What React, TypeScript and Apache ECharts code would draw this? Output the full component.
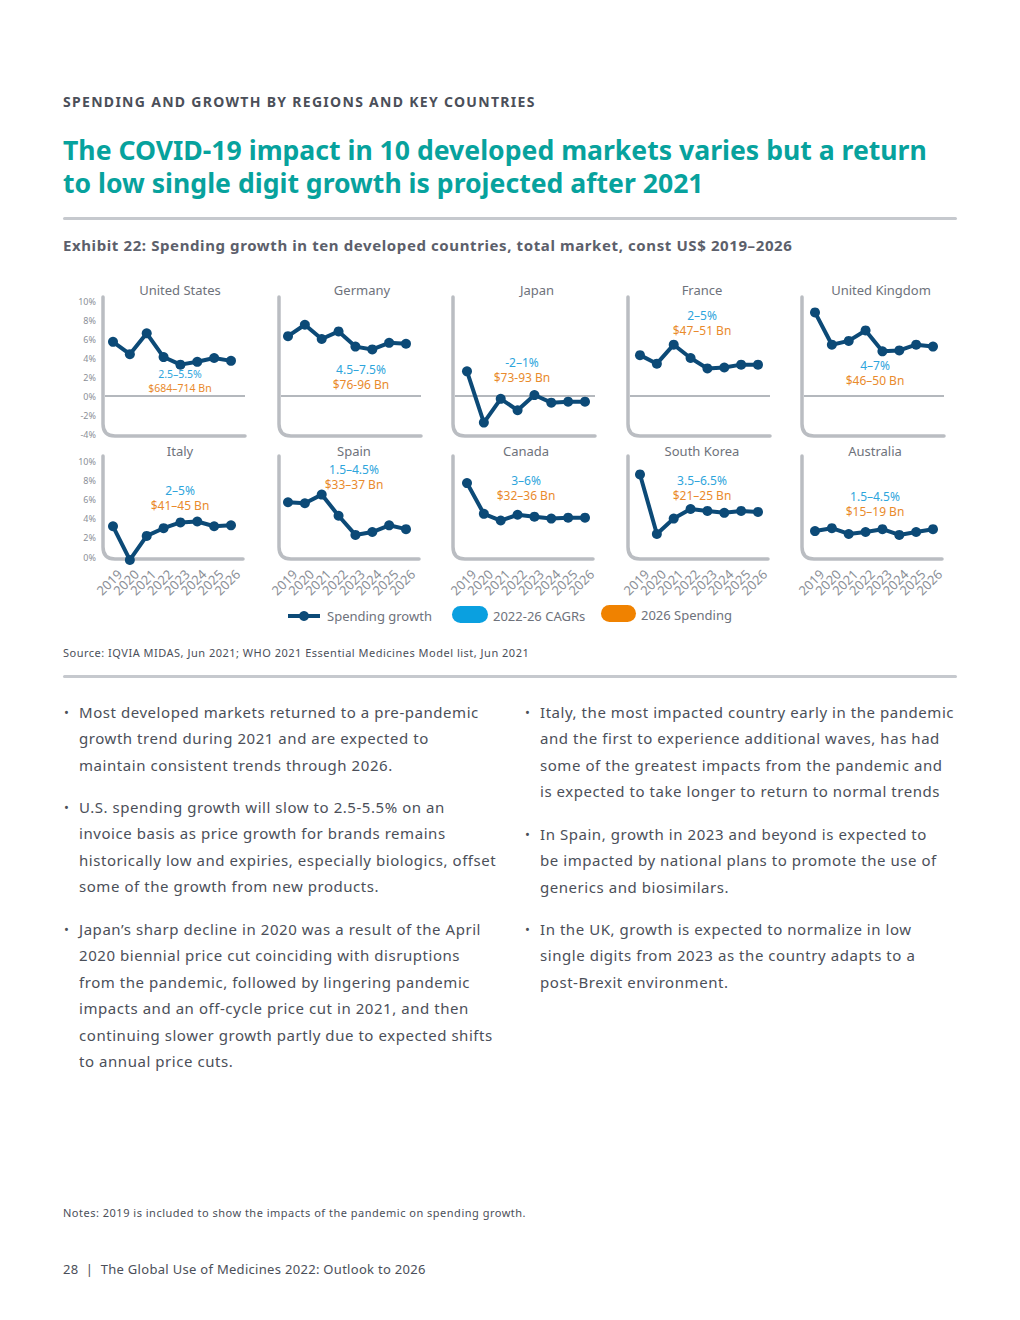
import React, { useEffect, useRef } from "react";
import * as echarts from "echarts";

// ---------- DATA ----------
const years = ["2019", "2020", "2021", "2022", "2023", "2024", "2025", "2026"];
const countries = [
  "United States", "Germany", "Japan", "France", "United Kingdom",
  "Italy", "Spain", "Canada", "South Korea", "Australia",
];
const usGrowth = [5.7, 4.4, 6.6, 4.1, 3.3, 3.6, 4.0, 3.7];
const germanyGrowth = [6.3, 7.5, 6.0, 6.8, 5.2, 4.9, 5.6, 5.5];
const japanGrowth = [2.6, -2.8, -0.3, -1.5, 0.1, -0.7, -0.6, -0.6];
const franceGrowth = [4.3, 3.4, 5.4, 4.0, 2.9, 3.0, 3.3, 3.3];
const ukGrowth = [8.8, 5.4, 5.8, 6.9, 4.7, 4.8, 5.4, 5.2];
const italyGrowth = [3.2, -0.3, 2.2, 3.0, 3.6, 3.7, 3.2, 3.3];
const spainGrowth = [5.7, 5.6, 6.5, 4.3, 2.3, 2.6, 3.3, 2.9];
const canadaGrowth = [7.7, 4.5, 3.8, 4.4, 4.2, 4.0, 4.1, 4.1];
const koreaGrowth = [8.6, 2.4, 4.0, 5.0, 4.8, 4.6, 4.8, 4.7];
const australiaGrowth = [2.7, 3.0, 2.4, 2.6, 2.9, 2.3, 2.6, 2.9];
const growthSeries = [
  usGrowth, germanyGrowth, japanGrowth, franceGrowth, ukGrowth,
  italyGrowth, spainGrowth, canadaGrowth, koreaGrowth, australiaGrowth,
];
const cagrLabels = [
  "2.5–5.5%", "4.5–7.5%", "-2–1%", "2–5%", "4–7%",
  "2–5%", "1.5–4.5%", "3–6%", "3.5–6.5%", "1.5–4.5%",
];
const spendLabels = [
  "$684–714 Bn", "$76-96 Bn", "$73-93 Bn", "$47–51 Bn", "$46–50 Bn",
  "$41–45 Bn", "$33–37 Bn", "$32–36 Bn", "$21–25 Bn", "$15–19 Bn",
];
const topRowRange = [-4, 10];
const bottomRowRange = [0, 10];
const tickStep = 2;
const legendLabels = ["Spending growth", "2022-26 CAGRs", "2026 Spending"];

const leftBullets = [
  ["Most developed markets returned to a pre-pandemic", "growth trend during 2021 and are expected to", "maintain consistent trends through 2026."],
  ["U.S. spending growth will slow to 2.5-5.5% on an", "invoice basis as price growth for brands remains", "historically low and expiries, especially biologics, offset", "some of the growth from new products."],
  ["Japan’s sharp decline in 2020 was a result of the April", "2020 biennial price cut coinciding with disruptions", "from the pandemic, followed by lingering pandemic", "impacts and an off-cycle price cut in 2021, and then", "continuing slower growth partly due to expected shifts", "to annual price cuts."],
];
const rightBullets = [
  ["Italy, the most impacted country early in the pandemic", "and the first to experience additional waves, has had", "some of the greatest impacts from the pandemic and", "is expected to take longer to return to normal trends"],
  ["In Spain, growth in 2023 and beyond is expected to", "be impacted by national plans to promote the use of", "generics and biosimilars."],
  ["In the UK, growth is expected to normalize in low", "single digits from 2023 as the country adapts to a", "post-Brexit environment."],
];

// ---------- STYLE / LAYOUT ----------
const FONT = '"Noto Sans", "Open Sans", sans-serif';
const NAVY = "#0c4a77";
const CAGR_BLUE = "#2ea5dc";
const ORANGE = "#e98a2c";
const FRAME = "#babdc2";
const GRAY_TXT = "#6e727b";
const TICK_TXT = "#8b8f97";
const BODY = "#4b4f59";
const TEAL = "#07a29d";

const frameX = [103, 279, 453, 628, 802];
const gridLeft = [113, 288, 467, 640, 815];
const gridWidth = 118;
const rowGrid = [
  { top: 301, height: 133, frameTop: 297, frameBottom: 436, frameW: 142 },
  { top: 461, height: 96, frameTop: 456, frameBottom: 559, frameW: 140 },
];
const titlePos = [
  [180, 290], [362, 290], [537, 290], [702, 290], [881, 290],
  [180, 451], [354, 451], [526, 451], [702, 451], [875, 451],
];
// centre between the two annotation lines
const notePos = [
  [180, 381], [361, 377], [522, 370], [702, 323], [875, 373],
  [180, 498], [354, 477], [526, 488], [702, 488], [875, 504],
];

function framePath(h: number, w: number) {
  const r = 12;
  return `M0,0 L0,${h - r} Q0,${h} ${r},${h} L${w},${h}`;
}
echarts.graphic.registerShape("frameTop", echarts.graphic.extendPath(framePath(rowGrid[0].frameBottom - rowGrid[0].frameTop, rowGrid[0].frameW), {}));
echarts.graphic.registerShape("frameBot", echarts.graphic.extendPath(framePath(rowGrid[1].frameBottom - rowGrid[1].frameTop, rowGrid[1].frameW), {}));

function buildOption() {
  const grid: any[] = [];
  const xAxis: any[] = [];
  const yAxis: any[] = [];
  const series: any[] = [];
  const graphic: any[] = [];

  countries.forEach((name, i) => {
    const row = i < 5 ? 0 : 1;
    const col = i % 5;
    const rg = rowGrid[row];
    const range = row === 0 ? topRowRange : bottomRowRange;
    grid.push({ left: gridLeft[col], width: gridWidth, top: rg.top, height: rg.height });
    xAxis.push({
      type: "category",
      gridIndex: i,
      data: years,
      boundaryGap: false,
      axisLine: { show: false },
      axisTick: { show: false },
      axisLabel:
        row === 1
          ? {
              show: true, interval: 0, rotate: 45, fontSize: 13, color: TICK_TXT, fontFamily: FONT,
              margin: 8, verticalAlign: "top", padding: [3, 0, 0, 0],
            }
          : { show: false, interval: 0 },
    });
    yAxis.push({
      type: "value",
      gridIndex: i,
      min: range[0],
      max: range[1],
      interval: tickStep,
      splitLine: { show: false },
      axisLine: { show: false },
      axisTick: { show: false },
      axisLabel:
        col === 0
          ? { show: true, formatter: "{value}%", fontSize: 9, color: TICK_TXT, fontFamily: FONT, margin: 17 }
          : { show: false },
    });
    series.push({
      type: "line",
      name: "Spending growth",
      xAxisIndex: i,
      yAxisIndex: i,
      data: growthSeries[i],
      symbol: "circle",
      symbolSize: 10,
      showSymbol: true,
      showAllSymbol: true,
      clip: false,
      lineStyle: { color: NAVY, width: 4 },
      itemStyle: { color: NAVY },
      z: 5,
    });

    // frame
    graphic.push({
      type: row === 0 ? "frameTop" : "frameBot",
      x: frameX[col],
      y: rg.frameTop,
      silent: true,
      style: { fill: "none", stroke: FRAME, lineWidth: 3.5, lineCap: "round", lineJoin: "round" },
      z: 1,
    });
    if (row === 0) {
      const zeroY = rg.top + (rg.height * (range[1] - 0)) / (range[1] - range[0]);
      graphic.push({
        type: "line",
        silent: true,
        shape: { x1: frameX[col] + 2, y1: zeroY, x2: frameX[col] + rg.frameW, y2: zeroY },
        style: { stroke: "#b4b8bd", lineWidth: 2 },
        z: 1,
      });
    }
    // title
    graphic.push({
      type: "text",
      x: titlePos[i][0],
      y: titlePos[i][1],
      silent: true,
      style: { text: name, fill: GRAY_TXT, fontSize: 13, fontFamily: FONT, align: "center", verticalAlign: "middle" },
    });
    const fs = i === 0 ? 10.5 : 12;
    const gap = i === 0 ? 13.5 : 14.5;
    graphic.push({
      type: "text",
      x: notePos[i][0],
      y: notePos[i][1] - gap / 2,
      silent: true,
      style: { text: cagrLabels[i], fill: CAGR_BLUE, fontSize: fs, fontFamily: FONT, align: "center", verticalAlign: "middle" },
      z: 10,
    });
    graphic.push({
      type: "text",
      x: notePos[i][0],
      y: notePos[i][1] + gap / 2,
      silent: true,
      style: { text: spendLabels[i], fill: ORANGE, fontSize: fs, fontFamily: FONT, align: "center", verticalAlign: "middle" },
      z: 10,
    });
  });

  // legend
  graphic.push(
    { type: "line", silent: true, shape: { x1: 288, y1: 616, x2: 320, y2: 616 }, style: { stroke: NAVY, lineWidth: 4 } },
    { type: "circle", silent: true, shape: { cx: 304, cy: 616, r: 5 }, style: { fill: NAVY } },
    { type: "text", silent: true, x: 327, y: 616, style: { text: legendLabels[0], fill: GRAY_TXT, fontSize: 13, fontFamily: FONT, verticalAlign: "middle" } },
    { type: "rect", silent: true, shape: { x: 452, y: 606, width: 36, height: 17, r: 8.5 }, style: { fill: "#0aa0e0" } },
    { type: "text", silent: true, x: 493, y: 616, style: { text: legendLabels[1], fill: GRAY_TXT, fontSize: 13, fontFamily: FONT, verticalAlign: "middle" } },
    { type: "rect", silent: true, shape: { x: 601, y: 605, width: 35, height: 17, r: 8.5 }, style: { fill: "#f08200" } },
    { type: "text", silent: true, x: 641, y: 615, style: { text: legendLabels[2], fill: GRAY_TXT, fontSize: 13, fontFamily: FONT, verticalAlign: "middle" } }
  );

  return { animation: false, grid, xAxis, yAxis, series, graphic };
}

function TextLine(props: { x: number; y: number; size: number; color: string; weight?: number; ls?: number; children: any }) {
  const lh = Math.round(props.size * 1.4);
  return (
    <div
      style={{
        position: "absolute",
        left: props.x,
        top: props.y - lh / 2,
        fontSize: props.size,
        lineHeight: `${lh}px`,
        color: props.color,
        fontWeight: props.weight || 400,
        letterSpacing: props.ls ? `${props.ls}px` : undefined,
        whiteSpace: "nowrap",
        fontFamily: FONT,
        zIndex: 2,
      }}
    >
      {props.children}
    </div>
  );
}

function Bullets(props: { paras: string[][]; starts: number[]; bx: number; tx: number }) {
  const out: any[] = [];
  props.paras.forEach((lines, pi) => {
    out.push(
      <TextLine key={`b${pi}`} x={props.bx} y={props.starts[pi]} size={13} color={BODY}>
        •
      </TextLine>
    );
    lines.forEach((l, li) => {
      out.push(
        <TextLine key={`t${pi}-${li}`} x={props.tx} y={props.starts[pi] + li * 26.5} size={15} color={BODY} ls={0.55}>
          {l}
        </TextLine>
      );
    });
  });
  return <>{out}</>;
}

export default function App() {
  const ref = useRef<HTMLDivElement>(null);
  useEffect(() => {
    if (!ref.current) return;
    const chart = echarts.init(ref.current, undefined, { renderer: "svg" });
    chart.setOption(buildOption() as any);
    return () => chart.dispose();
  }, []);

  return (
    <div style={{ position: "absolute", left: 0, top: 0, width: 1020, height: 1320, background: "#fff", overflow: "hidden", fontFamily: FONT }}>
      <div ref={ref} style={{ position: "absolute", left: 0, top: 0, width: 1020, height: 1320, zIndex: 1 }} />
      <TextLine x={63} y={102} size={14} color={BODY} weight={700} ls={1.3}>
        SPENDING AND GROWTH BY REGIONS AND KEY COUNTRIES
      </TextLine>
      <TextLine x={63} y={150} size={26.6} color={TEAL} weight={700}>
        The COVID-19 impact in 10 developed markets varies but a return
      </TextLine>
      <TextLine x={63} y={183} size={26.6} color={TEAL} weight={700}>
        to low single digit growth is projected after 2021
      </TextLine>
      <div style={{ position: "absolute", left: 63, top: 217, width: 894, height: 3, background: "#c6c9ce", borderRadius: 2, zIndex: 2 }} />
      <TextLine x={63} y={245} size={15} color="#5c606b" weight={700} ls={0.6}>
        Exhibit 22: Spending growth in ten developed countries, total market, const US$ 2019–2026
      </TextLine>
      <TextLine x={63} y={652} size={11} color={BODY} ls={0.5}>
        Source: IQVIA MIDAS, Jun 2021; WHO 2021 Essential Medicines Model list, Jun 2021
      </TextLine>
      <div style={{ position: "absolute", left: 63, top: 675, width: 894, height: 3, background: "#c6c9ce", borderRadius: 2, zIndex: 2 }} />
      <Bullets paras={leftBullets} starts={[712, 807, 929]} bx={64} tx={79} />
      <Bullets paras={rightBullets} starts={[712, 834, 929]} bx={525} tx={540} />
      <TextLine x={63} y={1212} size={11} color={BODY} ls={0.5}>
        Notes: 2019 is included to show the impacts of the pandemic on spending growth.
      </TextLine>
      <TextLine x={63} y={1269} size={13} color={BODY} ls={0.3}>
        28&nbsp;&nbsp;|&nbsp;&nbsp;The Global Use of Medicines 2022: Outlook to 2026
      </TextLine>
    </div>
  );
}
